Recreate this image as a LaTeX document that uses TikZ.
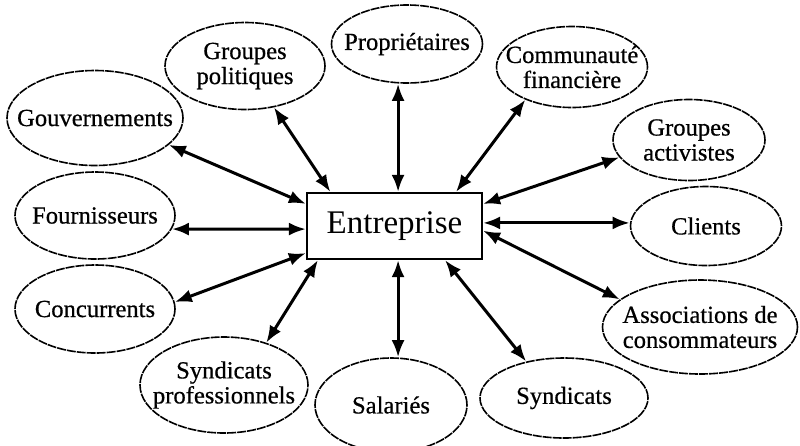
\documentclass[tikz,border=0pt]{standalone}
\usepackage{fontspec}
\setmainfont{Liberation Serif}
\newfontfamily\partyfont{Liberation Serif}[FakeBold=0.6]
\usetikzlibrary{shapes.geometric,arrows.meta}

\begin{document}
\begin{tikzpicture}[x=1pt,y=-1pt,
  party/.style={ellipse,draw,line width=1.6pt,dash pattern=on 9pt off 1pt,
    inner xsep=-20pt,inner ysep=-4pt,align=center,
    font=\partyfont\fontsize{24.6}{25}\selectfont},
  link/.style={line width=3pt,{Latex[length=17pt,width=13pt]}-{Latex[length=17pt,width=13pt]}}]
\useasboundingbox (0,0) rectangle (800,445);
\node[draw,line width=2.2pt,minimum width=175pt,minimum height=66pt,
  font=\fontsize{33}{36}\selectfont] (ent) at (394.5,226) {Entreprise};
\node[party,minimum width=176pt,minimum height=95pt] (gouv) at (95,118) {Gouvernements};
\node[party,minimum width=160pt,minimum height=87pt] (grpol) at (245,66) {Groupes\\politiques};
\node[party,minimum width=151pt,minimum height=78pt] (prop) at (407,44) {Propriétaires};
\node[party,minimum width=151pt,minimum height=81pt] (comfin) at (572,67) {Communauté\\financière};
\node[party,minimum width=152pt,minimum height=81pt] (grpact) at (689,140) {Groupes\\activistes};
\node[party,minimum width=151pt,minimum height=79pt] (clients) at (706,226) {Clients};
\node[party,minimum width=195pt,minimum height=94pt] (assoc) at (700,327) {Associations de\\consommateurs};
\node[party,minimum width=168pt,minimum height=80pt] (synd) at (564,398) {Syndicats};
\node[party,minimum width=152pt,minimum height=94pt] (sal) at (391,405) {Salariés};
\node[party,minimum width=168pt,minimum height=96pt] (syndpro) at (224,385) {Syndicats\\professionnels};
\node[party,minimum width=160pt,minimum height=88pt] (conc) at (95,309) {Concurrents};
\node[party,minimum width=160pt,minimum height=87pt] (fourn) at (95,215.5) {Fournisseurs};
\draw[link] (gouv.-20.6) -- (ent.166.5);
\draw[link] (fourn.-10) -- (ent.182);
\draw[link] (conc.5) -- (ent.197.1);
\draw[link] (grpol.-55) -- (ent.152.9);
\draw[link] (ent.84) -- (ent.84 |- prop.south);
\draw[link] (comfin.215) -- (ent.29.9);
\draw[link] (grpact.194.6) -- (ent.14.7);
\draw[link] (ent.2.6) -- (ent.2.6 -| clients.west);
\draw[link] (assoc.161.4) -- (ent.-3.9);
\draw[link] (synd.136.4) -- (ent.-34.2);
\draw[link] (ent.-84) -- (ent.-84 |- sal.north);
\draw[link] (syndpro.45) -- (ent.204.8);
\end{tikzpicture}
\end{document}
